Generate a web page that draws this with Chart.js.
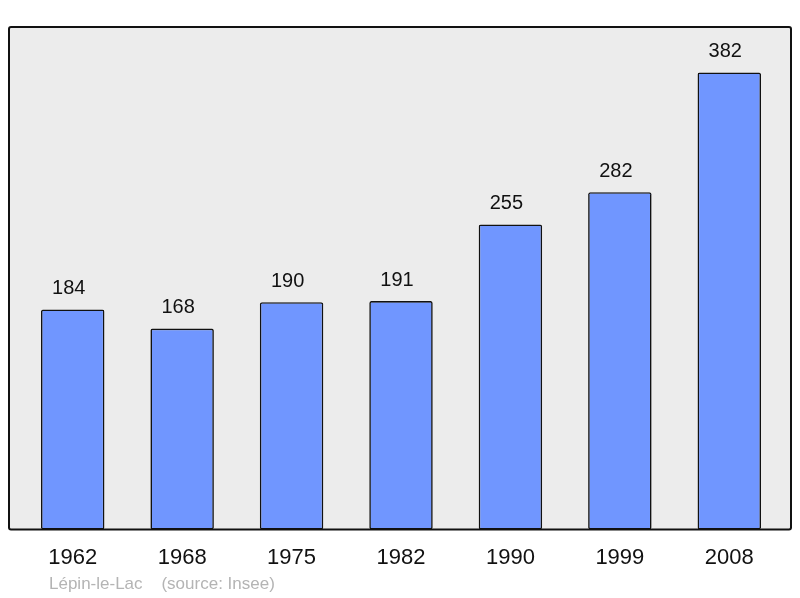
<!DOCTYPE html>
<html>
<head>
<meta charset="utf-8">
<script src="https://cdn.jsdelivr.net/npm/chart.js@4"></script>
<style>
  html, body { margin: 0; padding: 0; background: #fff; }
  #wrap { width: 800px; height: 598px; }
</style>
</head>
<body>
<div id="wrap"><canvas id="myChart"></canvas></div>
<script>
const years = ['1962', '1968', '1975', '1982', '1990', '1999', '2008'];
const population = [184, 168, 190, 191, 255, 282, 382];
const footerText = 'Lépin-le-Lac    (source: Insee)';

// fond gris + cadre
const framePlugin = {
  id: 'frame',
  beforeDraw(chart) {
    const { ctx, chartArea } = chart;
    ctx.save();
    ctx.fillStyle = '#ececec';
    ctx.fillRect(chartArea.left - 9, chartArea.top, chartArea.width + 16, chartArea.height);
    ctx.restore();
  },
  afterDatasetsDraw(chart) {
    const { ctx, chartArea } = chart;
    ctx.save();
    ctx.strokeStyle = '#111';
    ctx.lineWidth = 2;
    ctx.beginPath();
    ctx.roundRect(chartArea.left - 9, chartArea.top, chartArea.width + 16, chartArea.height, 2);
    ctx.stroke();

    // valeurs au-dessus des barres
    ctx.fillStyle = '#111';
    ctx.font = '20px "Liberation Sans", Arial, sans-serif';
    ctx.textAlign = 'center';
    ctx.textBaseline = 'middle';
    chart.getDatasetMeta(0).data.forEach((bar, i) => {
      ctx.fillText(population[i], bar.x - 4, bar.y - 21);
    });

    // source
    ctx.fillStyle = '#b4b4b4';
    ctx.font = '17px "Liberation Sans", Arial, sans-serif';
    ctx.textAlign = 'left';
    ctx.fillText(footerText, 49, 584);
    ctx.restore();
  }
};

const ctx = document.getElementById('myChart').getContext('2d');
const myChart = new Chart(ctx, {
  type: 'bar',
  data: {
    labels: years,
    datasets: [{
      data: population,
      backgroundColor: '#7096ff',
      borderColor: '#111',
      borderWidth: 1.6,
      borderRadius: 2,
      borderSkipped: false,
      barPercentage: 0.58,
      categoryPercentage: 1
    }]
  },
  options: {
    responsive: true,
    maintainAspectRatio: false,
    animation: false,
    layout: { padding: { left: 18, right: 16, top: 27, bottom: 12 } },
    plugins: {
      legend: { display: false },
      tooltip: { enabled: false }
    },
    scales: {
      x: {
        grid: { display: false, drawTicks: false },
        border: { display: false },
        ticks: {
          color: '#111',
          padding: 15,
          font: { size: 22, family: '"Liberation Sans", Arial, sans-serif' }
        }
      },
      y: {
        display: false,
        min: 0,
        max: 420
      }
    }
  },
  plugins: [framePlugin]
});
</script>
</body>
</html>
